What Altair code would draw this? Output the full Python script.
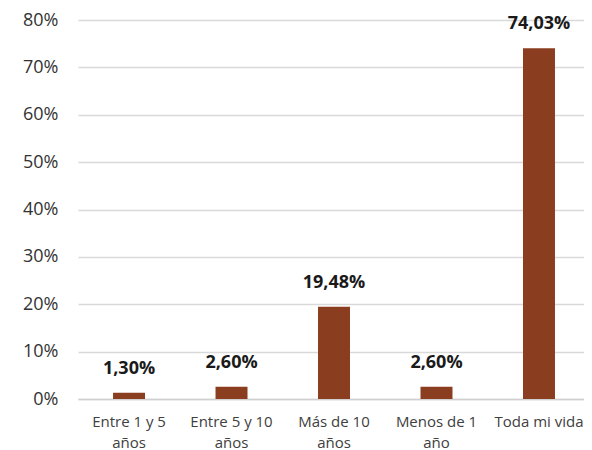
import altair as alt
import pandas as pd

categories = ["Entre 1 y 5 años", "Entre 5 y 10 años", "Más de 10 años", "Menos de 1 año", "Toda mi vida"]
tick_lines = [["Entre 1 y 5", "años"], ["Entre 5 y 10", "años"], ["Más de 10", "años"], ["Menos de 1", "año"], ["Toda mi vida"]]
values = [1.30, 2.60, 19.48, 2.60, 74.03]

df = pd.DataFrame({"cat": categories, "value": values})

label_map = "{" + ",".join(
    f"'{c}': [" + ",".join(f"'{l}'" for l in lines) + "]" for c, lines in zip(categories, tick_lines)
) + "}"

FONT = "Open Sans"

x = alt.X("cat:N", sort=categories, title=None,
          scale=alt.Scale(paddingInner=0.688, paddingOuter=0.3125, align=0.547),
          axis=alt.Axis(labelAngle=0, labelExpr=f"{label_map}[datum.value]",
                        labelFontSize=15, labelColor="#404040", labelFont=FONT,
                        labelLineHeight=21, labelPadding=15, labelBaseline="top",
                        ticks=False, domainColor="#d0d0d0", domainWidth=1.5))

y = alt.Y("value:Q", title=None,
          scale=alt.Scale(domain=[0, 80]),
          axis=alt.Axis(values=[0, 10, 20, 30, 40, 50, 60, 70, 80],
                        labelExpr="datum.value + '%'", labelFontSize=18,
                        labelColor="#333333", labelFont=FONT, labelPadding=20,
                        ticks=False, domain=False,
                        gridColor="#d9d9d9", gridWidth=1.5))

bars = alt.Chart(df).mark_bar(color="#8B3E1F").encode(x=x, y=y)

text = alt.Chart(df).transform_calculate(
    lbl="replace(format(datum.value, '.2f'), '.', ',') + '%'"
).mark_text(dy=-24, fontSize=18, fontWeight="bold", font=FONT, color="#1a1a1a").encode(
    x=alt.X("cat:N", sort=categories), y="value:Q", text="lbl:N")

chart = (bars + text).properties(
    width=506, height=379,
    autosize=alt.AutoSizeParams(type="none"),
    padding={"left": 70, "top": 12, "right": 0, "bottom": 52},
).configure_view(stroke=None)

chart.save("out.html", embed_options={"renderer": "svg", "actions": False})
